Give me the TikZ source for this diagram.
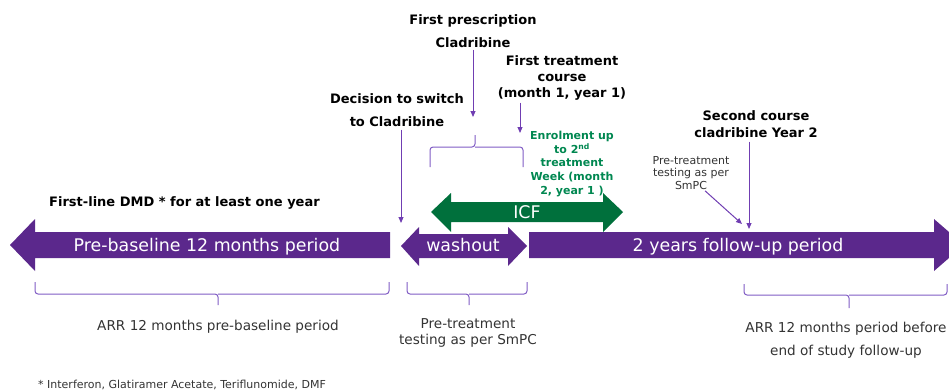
\documentclass[tikz,border=0pt]{standalone}
\usepackage{fontspec}
\setmainfont{DejaVu Sans}
\usetikzlibrary{arrows.meta}
\usetikzlibrary{positioning}

\definecolor{mspurple}{RGB}{91,40,140}
\definecolor{linepurple}{RGB}{112,62,178}
\definecolor{bracepurple}{RGB}{128,92,196}
\definecolor{msgreen}{RGB}{0,112,60}
\definecolor{txtgreen}{RGB}{0,135,80}

\tikzset{
  timeline/.style={fill=mspurple},
  barlabel/.style={text=white,anchor=base,font=\fontsize{17.4}{20}\selectfont},
  heading/.style={font=\bfseries\fontsize{13}{23}\selectfont},
  pointer/.style={draw=linepurple,line width=1pt,-{Triangle[length=6pt,width=5pt]}},
  bracket/.style={draw=bracepurple,line width=1pt,rounded corners=3pt},
  note/.style={font=\fontsize{13.6}{16}\selectfont,text=black!80}
}

\begin{document}
\begin{tikzpicture}[x=1pt,y=-1pt,every node/.style={inner sep=0pt,align=center}]
  \useasboundingbox (0,0) rectangle (949,391);
  \clip (0,0) rectangle (949,391);

  % the bars
  \fill[timeline] (10,245) -- (35,219) -- (35,232) -- (390,232) -- (390,258) -- (35,258) -- (35,271) -- cycle;
  \fill[timeline] (401,246) -- (419,227) -- (419,234) -- (508,234) -- (508,227) -- (527,246)
                  -- (508,266) -- (508,258) -- (419,258) -- (419,266) -- cycle;
  \fill[timeline] (529,232) -- (934,232) -- (934,219) -- (964,245) -- (934,271) -- (934,258) -- (529,258) -- cycle;
  \fill[msgreen] (431,212) -- (451,193) -- (451,202) -- (603,202) -- (603,193) -- (623,212)
                 -- (603,232) -- (603,222) -- (451,222) -- (451,232) -- cycle;

  \node[barlabel] (prebase) at (207,251) {Pre-baseline 12 months period};
  \node[barlabel] (washout) at (463,251.5) {washout};
  \node[barlabel] (icf) at (527,218) {ICF};
  \node[barlabel] (followup) at (738,251) {2 years follow-up period};

  % labels above
  \node[heading,anchor=west] (firstline) at (49,203) {First-line DMD * for at least one year};
  \node[heading] (decision) at (397,110) {Decision to switch\\to Cladribine};
  \node[heading] (firstpres) at (473,31) {First prescription\\Cladribine};
  \node[heading,font=\bfseries\fontsize{13}{16}\selectfont] (firsttreat) at (562,78) {First treatment\\course\\(month 1, year 1)};
  \node[text=txtgreen,font=\bfseries\fontsize{11}{13.8}\selectfont] (enrol) at (572,164)
       {Enrolment up\\to 2\textsuperscript{nd}\\treatment\\Week (month\\2, year 1 )};
  \node[heading,font=\bfseries\fontsize{13}{17}\selectfont] (second) at (756,124) {Second course\\cladribine Year 2};
  \node[font=\fontsize{11}{12.5}\selectfont,text=black!80] (smallpre) at (691,173) {Pre-treatment\\testing as per\\SmPC};

  \coordinate (presend) at (473,117);
  \coordinate (treatend) at (520,133);
  \coordinate (decend) at (401,223);
  \coordinate (secend) at (749,229);
  \coordinate (preend) at (742,224);

  \draw[pointer] (firstpres.south) ++(0,2) -- (presend);
  \draw[pointer] (firsttreat.south -| treatend) ++(0,2) -- (treatend);
  \draw[pointer] (decision.south -| decend) ++(0,3) -- (decend);
  \draw[pointer] (second.south -| secend) ++(0,4) -- (secend);
  \draw[pointer] ([xshift=14pt]smallpre.south) ++(0,1) -- (preend);

  % braces
  \draw[bracket] (430,167) |- (475,147) -- (475,135);
  \draw[bracket] (475,147) -| (523,167);

  \draw[bracket] (35,282) |- (218,294) -- (218,305);
  \draw[bracket] (218,294) -| (389,282);
  \draw[bracket] (407,282) |- (469,294) -- (469,305);
  \draw[bracket] (469,294) -| (527,282);
  \draw[bracket] (744,284) |- (849,295) -- (849,308);
  \draw[bracket] (849,295) -| (947,284);

  % labels below
  \node[note] (arrpre) at (218,327) {ARR 12 months pre-baseline period};
  \node[note] (pretest) at (468,333) {Pre-treatment\\testing as per SmPC};
  \node[note,font=\fontsize{13.6}{23}\selectfont] (arrend) at (846,340) {ARR 12 months period before\\end of study follow-up};
  \node[font=\fontsize{11}{12}\selectfont,text=black!80,anchor=west] (footnote) at (38,385)
       {* Interferon, Glatiramer Acetate, Teriflunomide, DMF};
\end{tikzpicture}
\end{document}
